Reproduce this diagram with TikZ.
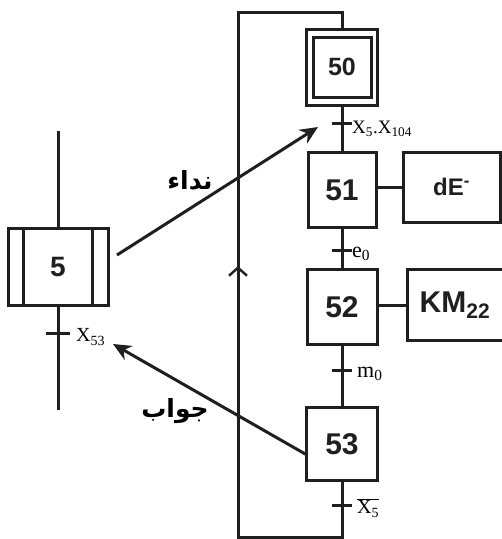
\documentclass[tikz,border=0pt]{standalone}
\usepackage{fontspec}
\setmainfont{Liberation Serif}
\newfontfamily\stepfont{Liberation Sans}
\newfontfamily\arabicfont[Script=Arabic]{DejaVu Sans}
\TeXXeTstate=1
\usetikzlibrary{arrows.meta,decorations.markings,calc}
\tikzset{
  ln/.style={line width=3pt,black!88},
  stepbox/.style={draw,ln,minimum width=#1,inner sep=0pt,font=\stepfont\bfseries\fontsize{30}{30}\selectfont},
  actbox/.style={draw,ln,inner sep=0pt,font=\stepfont\bfseries\fontsize{30}{30}\selectfont},
  cond/.style={anchor=west,inner sep=0pt,font=\fontsize{19}{19}\selectfont},
  condbig/.style={cond,font=\fontsize{22}{22}\selectfont},
  link/.style={ln,-{Stealth[length=18pt,width=16pt]}},
  ar/.style={font=\arabicfont\bfseries\fontsize{25}{25}\selectfont,inner sep=0pt}
}
\begin{document}
\begin{tikzpicture}[x=1pt,y=-1pt]
\useasboundingbox (0,0) rectangle (502,539);
% main sequence
\node[stepbox=71pt,minimum height=76pt] (s50o) at (342,67) {};
\node[stepbox=58pt,minimum height=60pt,font=\stepfont\bfseries\fontsize{25}{25}\selectfont] (s50) at (342,67) {50};
\node[stepbox=68pt,minimum height=75pt] (s51) at (342,190) {51};
\node[actbox,minimum width=97pt,minimum height=70pt,font=\stepfont\bfseries\fontsize{24}{24}\selectfont] (dE) at (451.5,187) {dE\textsuperscript{-}};
\node[stepbox=70pt,minimum height=75pt] (s52) at (342,307) {52};
\node[actbox,minimum width=96pt,minimum height=71pt] (KM) at (455,305) {KM\textsubscript{22}};
\node[stepbox=71pt,minimum height=73pt] (s53) at (342,444) {53};

\coordinate (t1) at (342,123);
\coordinate (t2) at (342,250);
\coordinate (t3) at (342,370);
\coordinate (t4) at (342,505);
\coordinate (bot) at (342,537);
\coordinate (bl) at (238,537);
\coordinate (tl) at (238,12);
\coordinate (tr) at (342,12);

\draw[ln] (s50o.south) -- (s51.north);
\draw[ln] (s51.south) -- (s52.north);
\draw[ln] (s52.south) -- (s53.north);
\draw[ln] (s51.east |- dE.west) -- (dE.west);
\draw[ln] (s52.east |- KM.west) -- (KM.west);
\draw[ln,line join=miter,postaction={decorate},decoration={markings,mark=at position 0.535 with {\arrow{Straight Barb[length=8pt,width=18pt,line width=2.4pt]}}}]
  (s53.south) -- (bot) -- (bl) -- (tl) -- (tr) -- (s50o.north);

\foreach \t in {t1,t2,t3,t4}
  \draw[ln] ($(\t)+(-10,0)$) -- ($(\t)+(10,0)$);

\node[cond] (c1) at (352,129) {X\textsubscript{5}.X\textsubscript{104}};
\node[condbig] (c2) at (352,254) {e\textsubscript{0}};
\node[condbig] (c3) at (357,374) {m\textsubscript{0}};
\node[cond,font=\fontsize{20}{20}\selectfont] (c4) at (357,508) {$\overline{\mbox{X\textsubscript{5}}}$};

% step 5 of the other grafcet
\node[stepbox=100pt,minimum height=77pt,font=\stepfont\bfseries\fontsize{28}{28}\selectfont] (s5) at (58,266.5) {5};
\draw[ln] ($(s5.north west)+(17,0)$) -- ($(s5.south west)+(17,0)$);
\draw[ln] ($(s5.north east)+(-17,0)$) -- ($(s5.south east)+(-17,0)$);
\coordinate (top5) at (58,131);
\coordinate (bot5) at (58,410);
\coordinate (t5) at (58,333);
\draw[ln] (top5) -- (s5.north);
\draw[ln] (s5.south) -- (bot5);
\draw[ln] ($(t5)+(-12,0)$) -- ($(t5)+(12,0)$);
\node[cond,font=\fontsize{20}{20}\selectfont] (c5) at (76,337) {X\textsubscript{53}};

% links
\coordinate (callstart) at (117,255);
\coordinate (callend) at (318,127);
\draw[link] (callstart) -- (callend);
\coordinate (ansstart) at (307,455);
\coordinate (ansend) at (113,344);
\draw[link] (ansstart) -- (ansend);

\node[ar] (lcall) at (190,180) {\beginR نداء\endR};
\node[ar] (lans) at (175,411) {\beginR جواب\endR};
\end{tikzpicture}
\end{document}
